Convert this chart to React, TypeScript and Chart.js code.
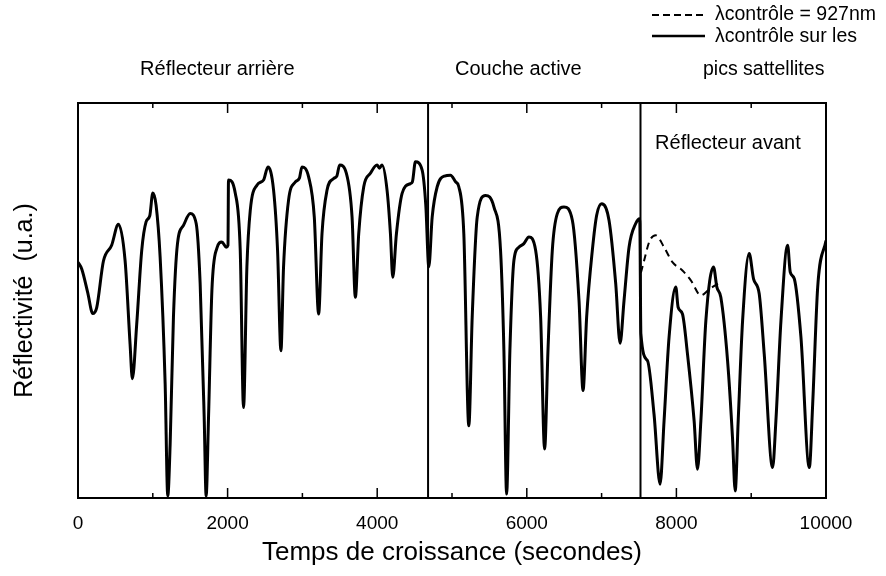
import React, { useEffect, useRef } from 'react';
import { Chart, registerables } from 'chart.js';

Chart.register(...registerables);

// Solid curve: λ contrôle sur les pics satellites
const solidTime = [
  0, 50, 130, 197, 250, 340, 450, 540, 630, 696, 727, 785, 852, 910, 960, 1000, 1044, 1098, 1165, 1200,
  1232, 1276, 1330, 1410, 1500, 1580, 1633, 1687, 1713, 1745, 1790, 1856, 1923, 1981, 2005, 2012, 2102, 2169, 2213, 2258,
  2303, 2392, 2481, 2539, 2615, 2668, 2713, 2748, 2815, 2905, 2960, 2994, 3083, 3159, 3217, 3262, 3329, 3418, 3460, 3498,
  3588, 3664, 3708, 3753, 3820, 3909, 3998, 4030, 4065, 4132, 4177, 4208, 4257, 4333, 4444, 4470, 4511, 4601, 4650, 4690,
  4735, 4802, 4900, 4980, 5050, 5091, 5158, 5225, 5270, 5337, 5448, 5560, 5649, 5694, 5730, 5774, 5828, 5894, 5961, 6028,
  6118, 6185, 6238, 6283, 6341, 6408, 6497, 6609, 6698, 6752, 6800, 6876, 6934, 7001, 7099, 7189, 7247, 7300, 7367, 7456,
  7510, 7525, 7613, 7701, 7782, 7835, 7902, 7992, 8023, 8081, 8148, 8237, 8282, 8327, 8394, 8496, 8541, 8594, 8684, 8750,
  8786, 8826, 8885, 8973, 9031, 9107, 9174, 9286, 9330, 9398, 9487, 9522, 9576, 9665, 9777, 9822, 9889, 10000,
];
const solidValue = [
  59.7, 58, 52, 46.7, 48.2, 60, 64, 69.3, 60, 39, 30.2, 44, 62.7, 69.9, 71.5, 77.2, 74.1, 61, 29, 0.5,
  13.7, 45.8, 64.4, 69, 72, 69.5, 54.3, 20.4, 0.5, 20.4, 52.5, 63.2, 64.8, 63.5, 64, 80.5, 77.2, 62.7, 22.9, 58.5,
  72.8, 79.2, 80.5, 83.8, 77.9, 62.7, 37.3, 58.5, 75.4, 80, 81, 83.8, 81.3, 71.1, 46.6, 66.9, 77.9, 80.9, 81.5, 84.3,
  82.2, 71.1, 50.8, 66.9, 78.8, 82.2, 84.3, 83.5, 84.3, 77.9, 66.9, 55.9, 66.9, 77.1, 79.6, 80, 85.1, 83, 74, 58.5,
  71.1, 78.8, 81.5, 81.7, 80, 78.8, 66.9, 18.3, 45.8, 71.1, 76.6, 73.7, 62.7, 37.3, 1, 37.3, 60.2, 63.5, 64.4, 66.1,
  62.7, 45.8, 12.4, 37.3, 62.7, 72, 73.7, 70.3, 50, 27.2, 45.8, 62.7, 71.6, 74.5, 70.3, 54.2, 39.2, 50, 63.5, 69.5,
  70.7, 41.6, 34.8, 21.2, 3.5, 19.5, 40.7, 53.4, 48.3, 46.6, 36.5, 19.5, 7.3, 19.5, 44.9, 58.5, 53.4, 50.8, 34.8, 15.3,
  1.8, 19.5, 44.9, 61.9, 55.5, 51.7, 36.5, 7.7, 19.5, 44.9, 64, 57.2, 55.5, 40.7, 7.7, 23.8, 53.4, 65.2,
];

// Dashed curve: λ contrôle = 927 nm
const dashedTime = [7525, 7567, 7640, 7724, 7835, 7947, 8081, 8193, 8327, 8450, 8560];
const dashedValue = [57, 60, 65, 66.5, 63.5, 59.7, 57.6, 55.1, 51.3, 53, 54.3];

// Region boundaries (s)
const boundaryTime = [4680, 7520];

// Axis ticks
const xTickValues = [0, 2000, 4000, 6000, 8000, 10000];
const xMinorTickValues = [1000, 3000, 5000, 7000, 9000];

// Region labels (data coordinates)
const regionLabels = ['Réflecteur arrière', 'Couche active', 'Réflecteur avant'];
const regionLabelX = [830, 5040, 7715];
const regionLabelY = [108.4, 108.4, 89.8];

// Legend
const legendLabels = ['λcontrôle = 927nm', 'λcontrôle sur les', 'pics sattellites'];

const FONT = '"Liberation Sans", Arial, Helvetica, sans-serif';

const decorPlugin = {
  id: 'decor',
  afterDatasetsDraw(chart: any) {
    const { ctx, chartArea: a, scales } = chart;
    const x = scales.x;
    const y = scales.y;
    ctx.save();
    ctx.strokeStyle = '#000';
    ctx.fillStyle = '#000';
    ctx.setLineDash([]);
    // frame
    ctx.lineWidth = 2;
    ctx.strokeRect(a.left, a.top, a.right - a.left, a.bottom - a.top);
    // inward ticks
    ctx.lineWidth = 1.5;
    const tick = (v: number, len: number) => {
      const px = x.getPixelForValue(v);
      ctx.beginPath();
      ctx.moveTo(px, a.bottom);
      ctx.lineTo(px, a.bottom - len);
      ctx.moveTo(px, a.top);
      ctx.lineTo(px, a.top + len);
      ctx.stroke();
    };
    xTickValues.forEach((v) => tick(v, 10));
    xMinorTickValues.forEach((v) => tick(v, 5));
    // region labels
    ctx.font = `20px ${FONT}`;
    ctx.textBaseline = 'middle';
    ctx.textAlign = 'left';
    regionLabels.forEach((t, i) => {
      ctx.fillText(t, x.getPixelForValue(regionLabelX[i]), y.getPixelForValue(regionLabelY[i]));
    });
    // legend
    const W = chart.width;
    const sx0 = W - 234;
    const sx1 = W - 183;
    const tx = W - 171;
    ctx.lineWidth = 2;
    ctx.setLineDash([7, 4]);
    ctx.beginPath();
    ctx.moveTo(sx0, 15);
    ctx.lineTo(sx1, 15);
    ctx.stroke();
    ctx.setLineDash([]);
    ctx.lineWidth = 2.5;
    ctx.beginPath();
    ctx.moveTo(sx0, 36);
    ctx.lineTo(sx1 + 2, 36);
    ctx.stroke();
    ctx.font = `19.5px ${FONT}`;
    ctx.fillText(legendLabels[0], tx, 15);
    ctx.fillText(legendLabels[1], tx, 37);
    ctx.fillText(legendLabels[2], W - 183, 70);
    ctx.restore();
  },
};

export default function App() {
  const ref = useRef<HTMLCanvasElement | null>(null);

  useEffect(() => {
    document.body.style.margin = '0';
    const canvas = ref.current;
    if (!canvas) return;

    const solid = solidTime.map((t, i) => ({ x: t, y: solidValue[i] }));
    const dashed = dashedTime.map((t, i) => ({ x: t, y: dashedValue[i] }));
    const boundaries = boundaryTime.map((t) => ({
      data: [
        { x: t, y: 0 },
        { x: t, y: 100 },
      ],
      borderColor: '#000',
      borderWidth: 2,
      pointRadius: 0,
      fill: false,
    }));

    const chart = new Chart(canvas, {
      type: 'line',
      data: {
        datasets: [
          {
            label: 'λcontrôle sur les pics sattellites',
            data: solid,
            borderColor: '#000',
            borderWidth: 3,
            pointRadius: 0,
            fill: false,
            cubicInterpolationMode: 'monotone',
          },
          {
            label: 'λcontrôle = 927nm',
            data: dashed,
            borderColor: '#000',
            borderWidth: 2,
            borderDash: [7, 5],
            pointRadius: 0,
            fill: false,
            cubicInterpolationMode: 'monotone',
          },
          ...boundaries,
        ] as any,
      },
      options: {
        animation: false,
        responsive: true,
        maintainAspectRatio: false,
        layout: { padding: { top: 103, right: 60, left: 10, bottom: 0 } },
        plugins: {
          legend: { display: false },
          tooltip: { enabled: false },
        },
        scales: {
          x: {
            type: 'linear',
            min: 0,
            max: 10000,
            afterBuildTicks: (scale: any) => {
              scale.ticks = xTickValues.map((v) => ({ value: v }));
            },
            ticks: {
              autoSkip: false,
              maxRotation: 0,
              padding: 14,
              color: '#000',
              font: { family: FONT, size: 19 },
              callback: (v: any) => String(v),
            },
            grid: { display: false, drawTicks: false },
            border: { display: false },
            title: {
              display: true,
              text: 'Temps de croissance (secondes)',
              color: '#000',
              font: { family: FONT, size: 26 },
              padding: { top: -12, bottom: 8 },
            },
          },
          y: {
            type: 'linear',
            min: 0,
            max: 100,
            ticks: { display: false },
            grid: { display: false, drawTicks: false },
            border: { display: false },
            title: {
              display: true,
              text: 'Réflectivité  (u.a.)',
              color: '#000',
              font: { family: FONT, size: 25 },
              padding: { top: 0, bottom: 38 },
            },
          },
        },
      },
      plugins: [decorPlugin],
    });

    return () => chart.destroy();
  }, []);

  return (
    <div style={{ width: 886, height: 576, position: 'relative' }}>
      <canvas ref={ref} />
    </div>
  );
}
